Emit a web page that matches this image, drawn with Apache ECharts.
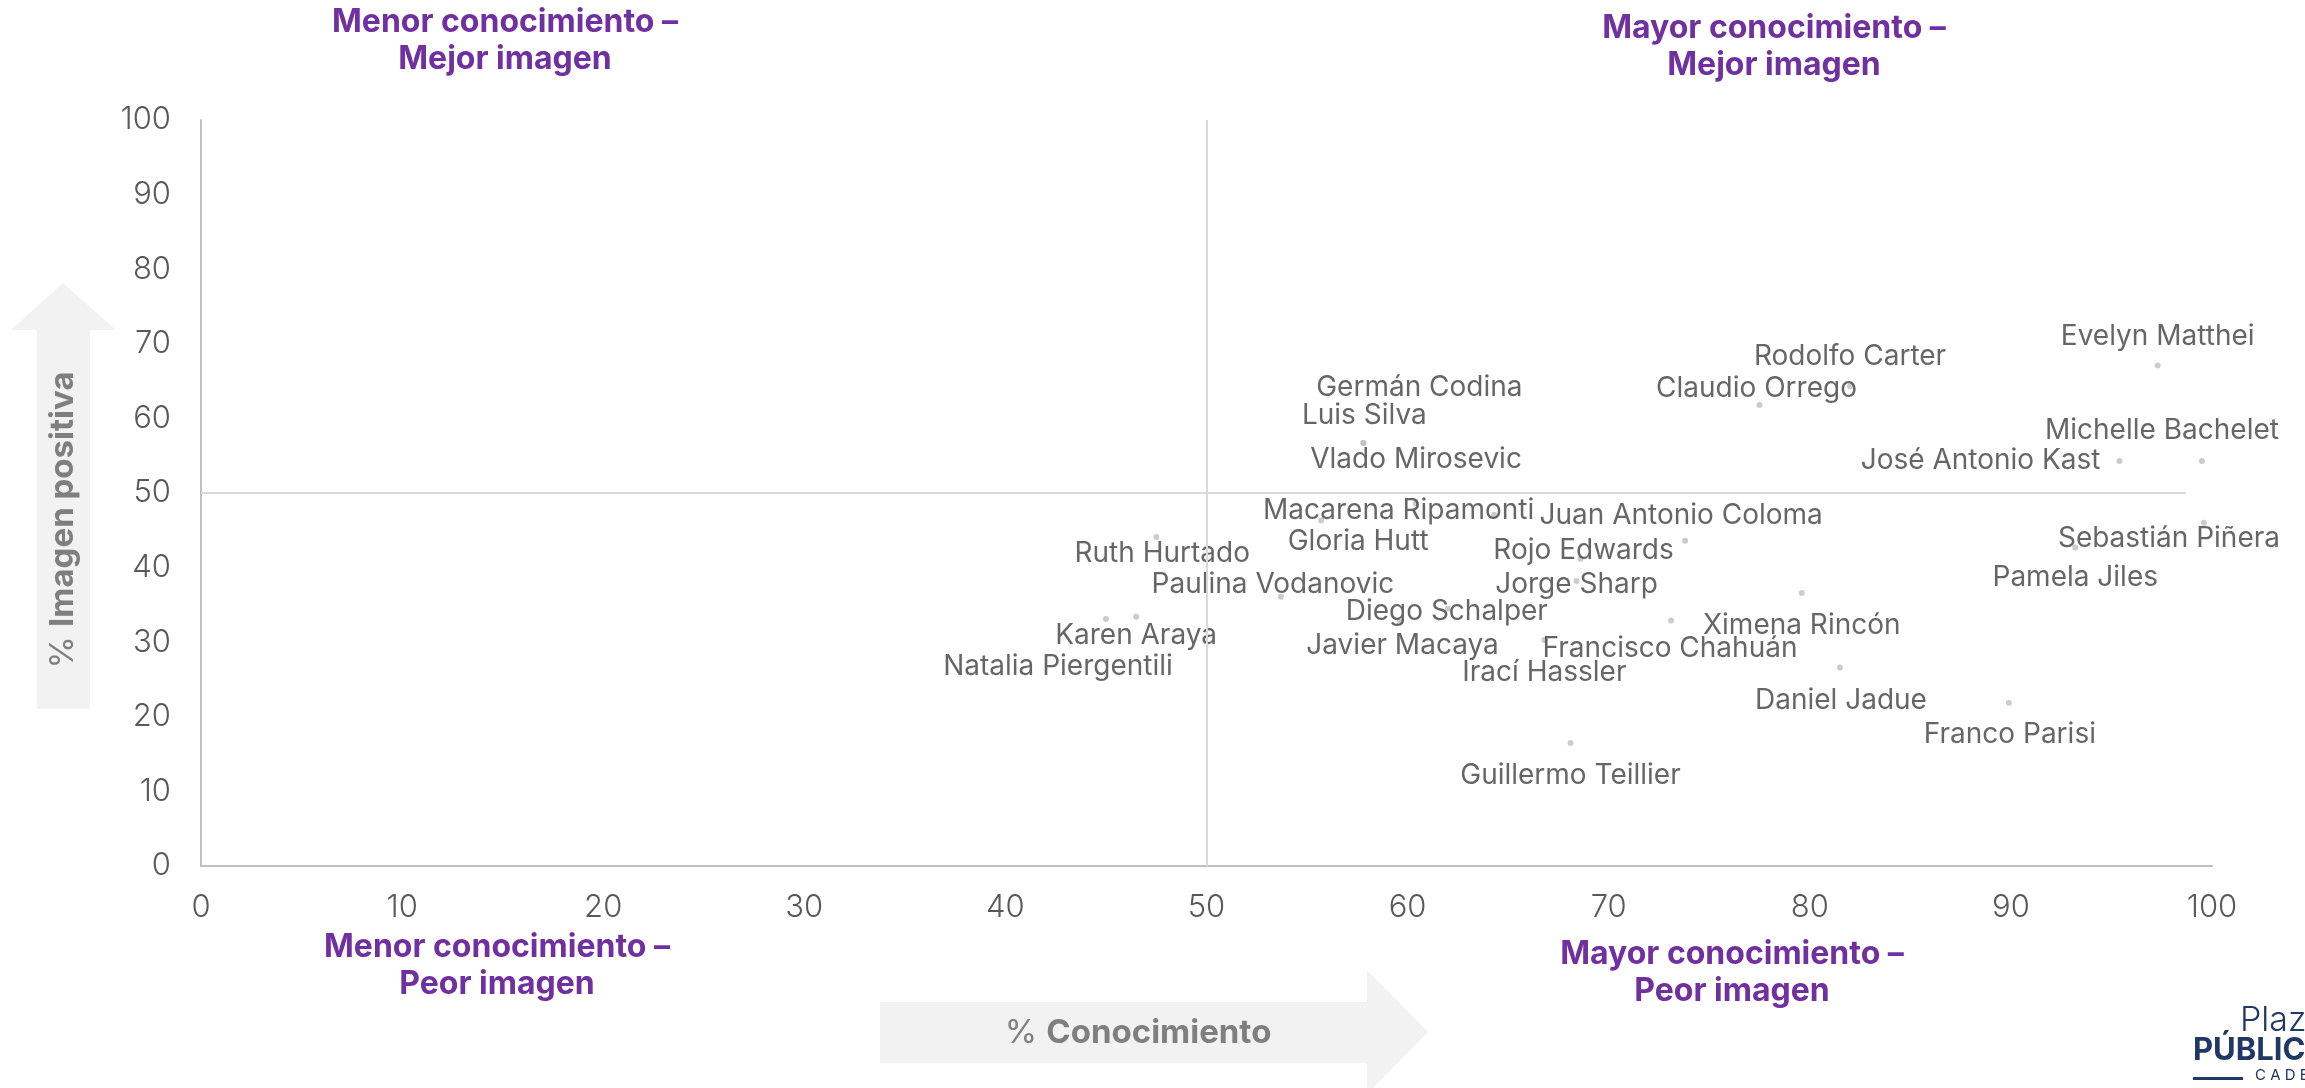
<!DOCTYPE html>
<html>
<head>
<meta charset="utf-8">
<script src="https://cdn.jsdelivr.net/npm/echarts@6/dist/echarts.min.js"></script>
<style>
  html, body { margin: 0; padding: 0; background: #fff; }
  #chart { width: 2305px; height: 1088px; }
</style>
</head>
<body>
<div id="chart"></div>
<script>
// data: % conocimiento (x) and % imagen positiva (y)
const names = [
  "Evelyn Matthei", "Rodolfo Carter", "Claudio Orrego", "Germán Codina", "Luis Silva",
  "Vlado Mirosevic", "Michelle Bachelet", "José Antonio Kast", "Sebastián Piñera", "Pamela Jiles",
  "Macarena Ripamonti", "Gloria Hutt", "Juan Antonio Coloma", "Rojo Edwards", "Jorge Sharp",
  "Ruth Hurtado", "Paulina Vodanovic", "Diego Schalper", "Karen Araya", "Natalia Piergentili",
  "Javier Macaya", "Francisco Chahuán", "Irací Hassler", "Ximena Rincón", "Daniel Jadue",
  "Franco Parisi", "Guillermo Teillier"
];
const conocimiento = [
  97.3, 82.0, 77.5, 57.8, 57.8,
  64.3, 99.5, 95.4, 99.6, 93.2,
  60.4, 55.7, 73.8, 68.6, 68.4,
  47.5, 53.7, 62.0, 46.5, 45.0,
  59.6, 73.1, 66.8, 79.6, 81.5,
  89.9, 68.1
];
const imagenPositiva = [
  67.1, 64.3, 61.8, 56.7, 56.7,
  47.1, 54.3, 54.3, 46.0, 42.7,
  48.6, 46.3, 43.6, 41.2, 38.2,
  44.1, 36.1, 34.5, 33.4, 33.1,
  32.7, 32.9, 30.3, 36.6, 26.6,
  21.9, 16.5
];
const axisTicks = [0, 100, 10]; // min, max, step

// label placement (px from the dot), set by hand like the original labels
const labelOffsets = {
  "Evelyn Matthei": [0, -29], "Rodolfo Carter": [0, -30], "Claudio Orrego": [-3, -16],
  "Germán Codina": [56, -55], "Luis Silva": [1, -27], "Vlado Mirosevic": [-78, -55],
  "Michelle Bachelet": [-40, -30], "José Antonio Kast": [-19, 0, "right"], "Sebastián Piñera": [-35, 16],
  "Pamela Jiles": [0, 30], "Macarena Ripamonti": [-17, 7], "Gloria Hutt": [37, 21],
  "Juan Antonio Coloma": [-4, -25], "Rojo Edwards": [3, -8], "Jorge Sharp": [0, 4],
  "Ruth Hurtado": [6, 17], "Paulina Vodanovic": [-8, -12], "Diego Schalper": [-1, 3],
  "Karen Araya": [0, 19], "Natalia Piergentili": [-48, 48], "Javier Macaya": [3, 24],
  "Francisco Chahuán": [-1, 28], "Irací Hassler": [0, 33], "Ximena Rincón": [0, 33],
  "Daniel Jadue": [1, 33], "Franco Parisi": [1, 32], "Guillermo Teillier": [0, 33]
};

const purple = "#7030a0";
const fontFamily = "Inter";

const points = names.map((name, i) => {
  const off = labelOffsets[name] || [0, 0];
  return {
    name: name,
    value: [conocimiento[i], imagenPositiva[i]],
    label: {
      offset: [off[0], off[1]],
      align: off[2] || "center"
    }
  };
});

const myChart = echarts.init(document.getElementById("chart"));

const quadrantTitle = (x, y, txt) => ({
  type: "text",
  x: x,
  y: y,
  style: {
    text: txt,
    fill: purple,
    font: "bold 32px " + fontFamily,
    align: "center",
    verticalAlign: "middle",
    lineHeight: 37
  }
});

const option = {
  backgroundColor: "#fff",
  animation: false,
  grid: { left: 201, right: 93, top: 120, bottom: 222 },
  xAxis: {
    type: "value",
    min: axisTicks[0],
    max: axisTicks[1],
    interval: axisTicks[2],
    axisLine: { show: true, lineStyle: { color: "#bfbfbf", width: 2 } },
    axisTick: { show: false },
    splitLine: { show: false },
    axisLabel: { color: "#595959", fontSize: 31, fontWeight: 300, fontFamily: fontFamily, margin: 26 }
  },
  yAxis: {
    type: "value",
    min: axisTicks[0],
    max: axisTicks[1],
    interval: axisTicks[2],
    axisLine: { show: true, lineStyle: { color: "#bfbfbf", width: 2 } },
    axisTick: { show: false },
    splitLine: { show: false },
    axisLabel: { color: "#595959", fontSize: 31, fontWeight: 300, fontFamily: fontFamily, margin: 30 }
  },
  series: [
    {
      type: "scatter",
      symbolSize: 6,
      itemStyle: { color: "#bfbfbf" },
      label: {
        show: true,
        position: "inside",
        formatter: "{b}",
        color: "#404040",
        fontSize: 28,
        fontFamily: fontFamily,
        verticalAlign: "middle"
      },
      data: points,
      // quadrant dividers
      markLine: {
        silent: true,
        symbol: "none",
        label: { show: false },
        lineStyle: { color: "#d9d9d9", width: 2, type: "solid" },
        data: [
          [{ coord: [50, 0] }, { coord: [50, 100] }],
          [{ coord: [0, 50] }, { coord: [98.7, 50] }]
        ]
      }
    }
  ],
  graphic: [
    // y arrow
    {
      type: "polygon",
      shape: { points: [[37, 709], [37, 330], [11, 330], [63, 283], [116, 330], [90, 330], [90, 709]] },
      style: { fill: "#f2f2f2" }
    },
    {
      type: "text",
      x: 63,
      y: 520,
      rotation: Math.PI / 2,
      style: {
        text: "{r|% }{b|Imagen positiva}",
        align: "center",
        verticalAlign: "middle",
        rich: {
          r: { fill: "#7f7f7f", font: "33px " + fontFamily },
          b: { fill: "#7f7f7f", font: "bold 33px " + fontFamily }
        }
      }
    },
    // x arrow
    {
      type: "polygon",
      shape: { points: [[880, 1002], [1367, 1002], [1367, 970], [1428, 1032], [1367, 1094], [1367, 1063], [880, 1063]] },
      style: { fill: "#f2f2f2" }
    },
    {
      type: "text",
      x: 1138,
      y: 1033,
      style: {
        text: "{r|% }{b|Conocimiento}",
        align: "center",
        verticalAlign: "middle",
        rich: {
          r: { fill: "#7f7f7f", font: "33px " + fontFamily },
          b: { fill: "#7f7f7f", font: "bold 33px " + fontFamily }
        }
      }
    },
    quadrantTitle(505, 41, "Menor conocimiento –\nMejor imagen"),
    quadrantTitle(1774, 47, "Mayor conocimiento –\nMejor imagen"),
    quadrantTitle(497, 966, "Menor conocimiento –\nPeor imagen"),
    quadrantTitle(1732, 973, "Mayor conocimiento –\nPeor imagen"),
    // logo, cut at the right edge
    { type: "text", x: 2240, y: 1021, style: { text: "Plaza", fill: "#203864", font: "300 34px " + fontFamily, verticalAlign: "middle" } },
    { type: "text", x: 2193, y: 1051, style: { text: "PÚBLICA", fill: "#203864", font: "bold 31px " + fontFamily, verticalAlign: "middle" } },
    { type: "text", x: 2255, y: 1075, style: { text: "C A D E M", fill: "#203864", font: "15px " + fontFamily, verticalAlign: "middle" } },
    { type: "rect", shape: { x: 2193, y: 1077, width: 50, height: 3 }, style: { fill: "#203864" } }
  ]
};

myChart.setOption(option);
</script>
</body>
</html>
